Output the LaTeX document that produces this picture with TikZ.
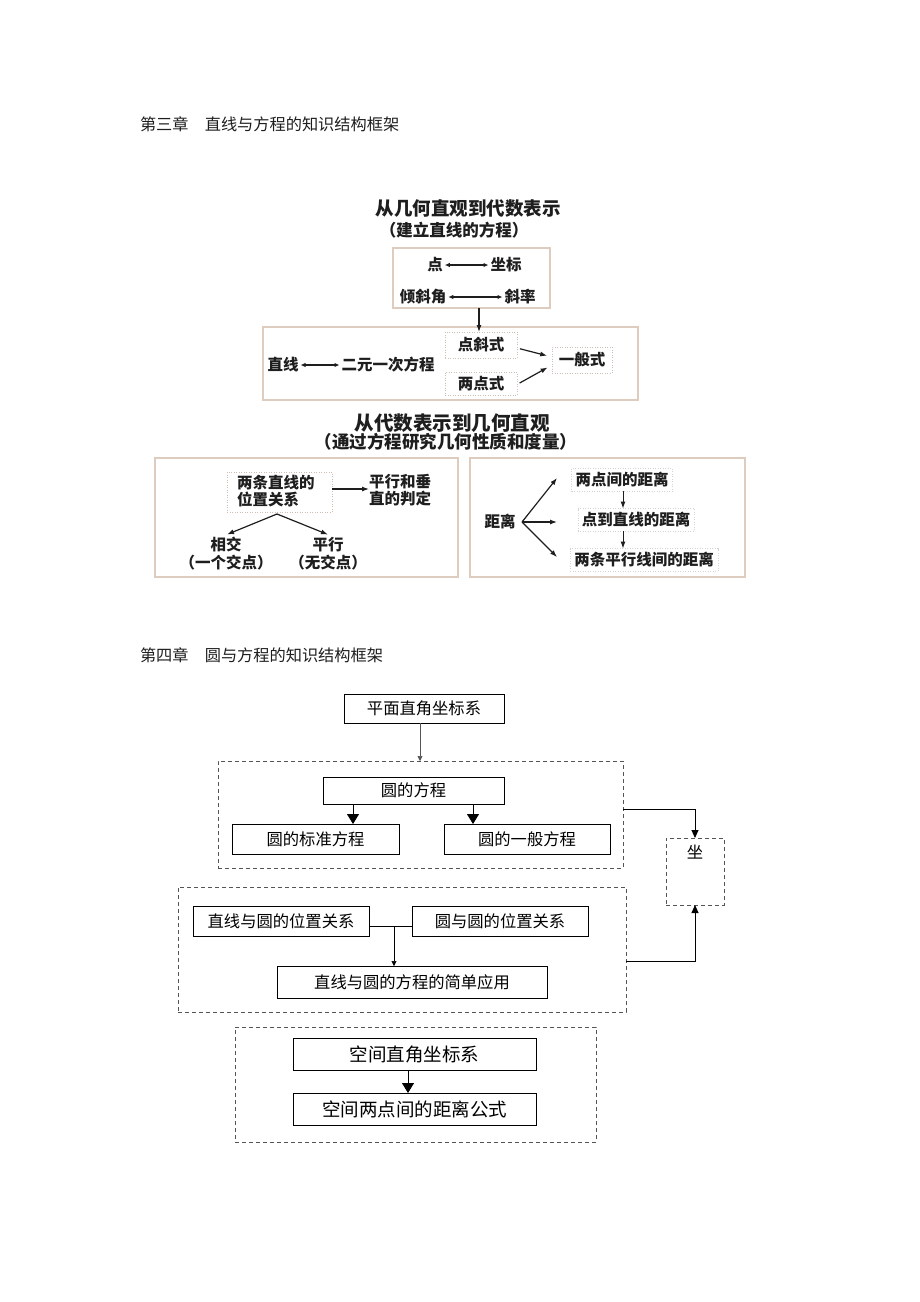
\documentclass[tikz,border=0pt]{standalone}
\usepackage{fontspec}
\setmainfont{Noto Sans CJK SC}
\usetikzlibrary{arrows.meta}
\definecolor{ink}{RGB}{30,30,30}
\definecolor{tan}{RGB}{222,204,190}
\definecolor{tanl}{RGB}{205,190,180}
\definecolor{faint}{RGB}{215,210,210}
\definecolor{dgray}{RGB}{85,85,85}
\begin{document}
\begin{tikzpicture}[x=1pt,y=-1pt,
  every node/.style={inner sep=0pt,outer sep=0pt,text=ink},
  chap/.style={font=\fontsize{16.2}{18}\selectfont,anchor=west},
  tb/.style={font=\bfseries\fontsize{15.5}{18}\selectfont},
  tt/.style={font=\bfseries\fontsize{#1}{#1}\selectfont},
  tbox/.style={draw=tan,line width=1.4pt},
  sbox/.style={draw=tanl,dash pattern=on 1pt off 1.5pt,line width=0.6pt},
  fbox/.style={draw=faint,dash pattern=on 1pt off 1.5pt,line width=0.5pt},
  dbl/.style={{Latex[length=5pt,width=4.5pt]}-{Latex[length=5pt,width=4.5pt]},line width=1.2pt,draw=ink},
  tar/.style={-{Latex[length=7pt,width=5pt]},line width=1.2pt,draw=ink},
  cbox/.style={draw=black,line width=0.8pt,font=\fontsize{16.3}{18}\selectfont,text=black},
  dbox/.style={draw=dgray,dash pattern=on 4pt off 3pt,line width=0.8pt},
  barrow/.style={-{Triangle[length=10pt,width=12pt]},line width=0.9pt,draw=black},
  marrow/.style={-{Triangle[length=8pt,width=7pt]},line width=0.9pt,draw=black},
  sarrow/.style={-{Triangle[length=5pt,width=5pt]},line width=0.6pt,draw=dgray}]
\useasboundingbox[fill=white] (0,0) rectangle (920,1302);

% ---------------- Chapter 3 ----------------
\node[chap] (c3) at (140,124) {第三章　直线与方程的知识结构框架};

\node[tt=18.5] (h1) at (468,208) {从几何直观到代数表示};
\node[tt=16.5] (h1b) at (454,230) {（建立直线的方程）};

\node[tbox,minimum width=157,minimum height=60] (bA) at (471.5,278) {};
\node[tb] (dian) at (435,265) {点};
\node[tb] (zb) at (506,265) {坐标};
\draw[dbl,shorten <=2pt,shorten >=2pt] (dian.east) -- (zb.west);
\node[tb] (qxj) at (423,297) {倾斜角};
\node[tb] (xl) at (520,297) {斜率};
\draw[dbl,shorten <=2pt,shorten >=2pt] (qxj.east) -- (xl.west);

\node[tbox,minimum width=375,minimum height=73] (bB) at (450.5,363.5) {};
\node[tb] (zx) at (283,365) {直线};
\node[tb] (eyc) at (388,365) {二元一次方程};
\draw[dbl,shorten <=2pt,shorten >=2pt] (zx.east) -- (eyc.west);
\node[sbox,tb,minimum width=72,minimum height=26] (dxs) at (481,345) {点斜式};
\node[sbox,tb,minimum width=72,minimum height=23] (lds) at (481,383.5) {两点式};
\node[sbox,tb,minimum width=60,minimum height=26] (ybs) at (582,360) {一般式};
\draw[tar] (479,0 |- bA.south) -- (479,0 |- dxs.north);
\draw[tar,shorten <=3pt,shorten >=5pt] ([yshift=-3pt]dxs.east) -- ([yshift=3pt]ybs.west);
\draw[tar,shorten <=3pt,shorten >=5pt] ([yshift=-1pt]lds.east) -- ([yshift=-5pt]ybs.west);

\node[tt=19.5] (h2) at (452,423) {从代数表示到几何直观};
\node[tt=17.5] (h2b) at (446,442) {（通过方程研究几何性质和度量）};

% left box
\node[tbox,minimum width=303,minimum height=119] (bC) at (306.5,517.5) {};
\node[sbox,minimum width=105,minimum height=40] (wzb) at (279.5,492) {};
\node[tb,align=left,anchor=west,font=\bfseries\fontsize{15.5}{17}\selectfont] (wz) at (237,491) {两条直线的\\位置关系};
\node[tb,align=left,anchor=west,font=\bfseries\fontsize{15.5}{17}\selectfont] (pd) at (369,490) {平行和垂\\直的判定};
\draw[tar] (wzb.east |- 0,489) -- (pd.west |- 0,489);
\node[tb,align=center,font=\bfseries\fontsize{15.5}{18}\selectfont] (xj) at (226,554) {相交\\（一个交点）};
\node[tb,align=center,font=\bfseries\fontsize{15.5}{18}\selectfont] (px) at (328,554) {平行\\（无交点）};
\coordinate (fork) at (277,514);
\draw[tar] (fork) -- ([xshift=1pt,yshift=3pt]xj.north);
\draw[tar] (fork) -- ([xshift=0pt,yshift=3pt]px.north);

% right box
\node[tbox,minimum width=275,minimum height=119] (bD) at (607.5,517.5) {};
\node[tb] (jl) at (500,522) {距离};
\node[tb,fbox,inner sep=4pt] (a1) at (622,480) {两点间的距离};
\node[tb,fbox,inner sep=4pt] (a2) at (636,520) {点到直线的距离};
\node[tb,fbox,inner sep=4pt] (a3) at (644,560) {两条平行线间的距离};
\coordinate (jlo) at (522,522);
\draw[tar] (jlo) -- (557,478);
\draw[tar] (jlo) -- (557,522);
\draw[tar] (jlo) -- (557,557);
\draw[tar,line width=1pt] (623,0 |- a1.south) -- (623,0 |- a2.north);
\draw[tar,line width=1pt] (623,0 |- a2.south) -- (623,0 |- a3.north);

% ---------------- Chapter 4 ----------------
\node[chap] (c4) at (140,655) {第四章　圆与方程的知识结构框架};

\node[cbox,minimum width=160,minimum height=29] (pm) at (424,708.5) {平面直角坐标系};
\node[dbox,minimum width=405,minimum height=107] (d1) at (420.5,814.5) {};
\node[cbox,minimum width=181,minimum height=27] (yfc) at (413.5,790.5) {圆的方程};
\node[cbox,minimum width=167,minimum height=30] (bz) at (315.5,839) {圆的标准方程};
\node[cbox,minimum width=166,minimum height=30] (yb) at (527,839) {圆的一般方程};
\draw[sarrow] (420,0 |- pm.south) -- (420,0 |- d1.north);
\draw[barrow] (353,0 |- yfc.south) -- (353,0 |- bz.north);
\draw[barrow] (473,0 |- yfc.south) -- (473,0 |- yb.north);

\node[dbox,minimum width=58,minimum height=67] (zuo) at (695,871.5) {};
\node[font=\fontsize{16.3}{18}\selectfont,text=black] (zuot) at (695,852) {坐};

\node[dbox,minimum width=448,minimum height=125] (d2) at (402,949.5) {};
\node[cbox,minimum width=176,minimum height=30] (zw) at (281,921) {直线与圆的位置关系};
\node[cbox,minimum width=176,minimum height=30] (yy) at (500,921) {圆与圆的位置关系};
\node[cbox,minimum width=270,minimum height=32] (jd) at (412,982) {直线与圆的方程的简单应用};
\draw[line width=0.6pt] (zw.east |- 0,926) -- (yy.west |- 0,926);
\draw[sarrow,draw=black] (394,926) -- (394,0 |- jd.north);

\draw[marrow] (d1.east |- 0,809) -- (zuo.north |- 0,809) -- (zuo.north);
\draw[marrow] (d2.east |- 0,961) -- (zuo.south |- 0,961) -- (zuo.south);

\node[dbox,minimum width=361,minimum height=115] (d3) at (415.5,1084.5) {};
\node[cbox,minimum width=243,minimum height=32,font=\fontsize{18.5}{20}\selectfont] (kj) at (414.5,1054) {空间直角坐标系};
\node[cbox,minimum width=243,minimum height=32,font=\fontsize{18.5}{20}\selectfont] (kd) at (414.5,1109) {空间两点间的距离公式};
\draw[barrow] (408,0 |- kj.south) -- (408,0 |- kd.north);
\end{tikzpicture}
\end{document}
